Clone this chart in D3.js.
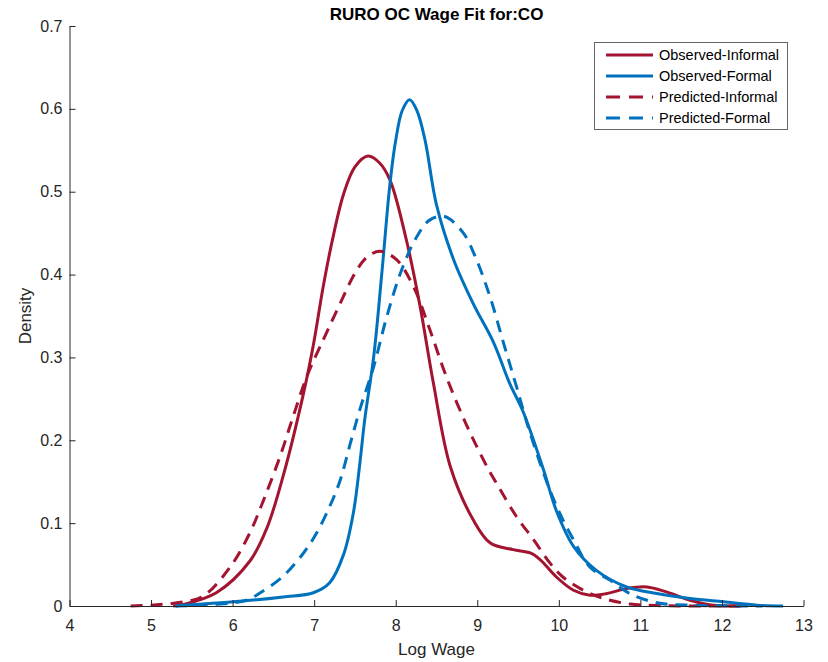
<!DOCTYPE html>
<html>
<head>
<meta charset="utf-8">
<script src="https://cdn.jsdelivr.net/npm/d3@7"></script>
<style>
  body { margin: 0; background: #fff; }
  svg { display: block; font-family: "Liberation Sans", Arial, Helvetica, sans-serif; }
</style>
</head>
<body>
<svg id="chart" width="828" height="662"></svg>
<script>
// Kernel density estimates of log wage, observed vs. model-predicted
const titleText = "RURO OC Wage Fit for:CO";
const xLabel = "Log Wage";
const yLabel = "Density";
const xTicks = [4, 5, 6, 7, 8, 9, 10, 11, 12, 13];
const yTicks = [0, 0.1, 0.2, 0.3, 0.4, 0.5, 0.6, 0.7];
const seriesNames = ["Observed-Informal", "Observed-Formal", "Predicted-Informal", "Predicted-Formal"];

const observedInformal = [
  [5.27, 0], [5.40, 0.002], [5.80, 0.016], [6.21, 0.054], [6.42, 0.094], [6.62, 0.157],
  [6.87, 0.257], [6.99, 0.315], [7.11, 0.385], [7.22, 0.440], [7.36, 0.497],
  [7.50, 0.530], [7.66, 0.543], [7.80, 0.535], [7.93, 0.514], [8.13, 0.442], [8.30, 0.361],
  [8.46, 0.270], [8.67, 0.168], [8.95, 0.104], [9.16, 0.076], [9.44, 0.068], [9.65, 0.064],
  [9.77, 0.056], [9.97, 0.035], [10.18, 0.019], [10.38, 0.013], [10.59, 0.015], [10.83, 0.021],
  [11.08, 0.023], [11.32, 0.017], [11.61, 0.007], [11.89, 0.001], [12.22, 0]
];
const observedFormal = [
  [5.30, 0], [5.40, 0.001], [6.01, 0.005], [6.62, 0.011], [6.99, 0.016], [7.19, 0.028],
  [7.36, 0.062], [7.48, 0.112], [7.56, 0.172], [7.62, 0.225], [7.73, 0.301], [7.83, 0.402],
  [7.93, 0.510], [8.00, 0.562], [8.08, 0.598], [8.17, 0.611], [8.26, 0.598], [8.36, 0.562],
  [8.50, 0.484], [8.71, 0.418], [8.95, 0.365], [9.20, 0.318], [9.40, 0.268], [9.56, 0.235],
  [9.81, 0.165], [9.97, 0.115], [10.18, 0.072], [10.46, 0.043], [10.83, 0.023], [11.2, 0.015],
  [11.61, 0.009], [12.02, 0.005], [12.43, 0.001], [12.75, 0]
];
const predictedInformal = [
  [4.75, 0], [5.0, 0.001], [5.40, 0.005], [5.64, 0.012], [5.97, 0.047], [6.21, 0.088],
  [6.38, 0.128], [6.58, 0.180], [6.74, 0.228], [6.91, 0.277], [7.11, 0.321], [7.28, 0.357],
  [7.52, 0.405], [7.66, 0.422], [7.81, 0.428], [8.01, 0.418], [8.22, 0.385], [8.42, 0.333],
  [8.62, 0.277], [8.87, 0.218], [9.12, 0.168], [9.26, 0.144], [9.48, 0.108], [9.69, 0.080],
  [9.89, 0.052], [10.05, 0.035], [10.30, 0.019], [10.55, 0.009], [10.87, 0.0024], [11.2, 0.0005],
  [12.26, 0]
];
const predictedFormal = [
  [5.30, 0], [5.80, 0.002], [6.17, 0.007], [6.34, 0.016], [6.62, 0.036], [6.87, 0.064],
  [7.03, 0.088], [7.19, 0.120], [7.32, 0.152], [7.44, 0.195], [7.56, 0.237], [7.73, 0.289],
  [7.89, 0.349], [8.07, 0.405], [8.26, 0.446], [8.42, 0.466], [8.60, 0.470], [8.83, 0.450],
  [8.99, 0.418], [9.16, 0.372], [9.32, 0.318], [9.48, 0.265], [9.65, 0.208], [9.89, 0.140],
  [10.05, 0.104], [10.18, 0.080], [10.38, 0.047], [10.63, 0.031], [10.87, 0.015], [11.2, 0.004],
  [11.6, 0.001], [12.5, 0]
];

const red = "#A2142F";
const blue = "#0072BD";
const series = [
  { name: seriesNames[0], data: observedInformal, color: red, dash: null },
  { name: seriesNames[1], data: observedFormal, color: blue, dash: null },
  { name: seriesNames[2], data: predictedInformal, color: red, dash: "12,8" },
  { name: seriesNames[3], data: predictedFormal, color: blue, dash: "12,8" }
];

const margin = { left: 69.5, right: 828 - 803.5, top: 26, bottom: 662 - 606 };
const svg = d3.select("#chart");
const W = 828, H = 662;

const x = d3.scaleLinear().domain([4, 13]).range([margin.left, W - margin.right]);
const y = d3.scaleLinear().domain([0, 0.7]).range([H - margin.bottom, margin.top]);

const axisColor = "#262626";

// density curves
const line = d3.line()
  .x(d => x(d[0]))
  .y(d => y(d[1]))
  .curve(d3.curveCatmullRom.alpha(0.5));

const g = svg.append("g");
series.forEach(s => {
  g.append("path")
    .datum(s.data)
    .attr("d", line)
    .attr("fill", "none")
    .attr("stroke", s.color)
    .attr("stroke-width", 3)
    .attr("stroke-dasharray", s.dash)
    .attr("stroke-linejoin", "round");
});

// axes with inward ticks
const xAxis = svg.append("g")
  .attr("transform", `translate(0,${y(0)})`)
  .call(d3.axisBottom(x).tickValues(xTicks).tickFormat(d3.format("d")).tickSizeInner(-6).tickSizeOuter(0).tickPadding(14));
const yAxis = svg.append("g")
  .attr("transform", `translate(${x(4)},0)`)
  .call(d3.axisLeft(y).tickValues(yTicks).tickFormat(d => d === 0 ? "0" : d3.format(".1f")(d)).tickSizeInner(-6).tickSizeOuter(0).tickPadding(7));

[xAxis, yAxis].forEach(a => {
  a.select(".domain").attr("stroke", axisColor).attr("stroke-width", 1);
  a.selectAll(".tick line").attr("stroke", axisColor).attr("stroke-width", 1);
  a.selectAll(".tick text").attr("fill", axisColor).attr("font-size", 16)
    .attr("font-family", "'Liberation Sans', Arial, sans-serif");
});

// title and axis labels
svg.append("text")
  .attr("x", (x(4) + x(13)) / 2).attr("y", 20)
  .attr("text-anchor", "middle")
  .attr("font-size", 17).attr("font-weight", "bold").attr("fill", "#000")
  .text(titleText);

svg.append("text")
  .attr("x", (x(4) + x(13)) / 2).attr("y", 655)
  .attr("text-anchor", "middle")
  .attr("font-size", 17).attr("fill", axisColor)
  .text(xLabel);

svg.append("text")
  .attr("transform", `translate(31,${(y(0) + y(0.7)) / 2}) rotate(-90)`)
  .attr("text-anchor", "middle")
  .attr("font-size", 17).attr("fill", axisColor)
  .text(yLabel);

// legend
const lg = svg.append("g");
lg.append("rect")
  .attr("x", 594.5).attr("y", 42.5).attr("width", 193).attr("height", 87)
  .attr("fill", "#fff").attr("stroke", "#666").attr("stroke-width", 1);
series.forEach((s, i) => {
  const cy = 55 + i * 21;
  lg.append("line")
    .attr("x1", 606).attr("x2", 653).attr("y1", cy).attr("y2", cy)
    .attr("stroke", s.color).attr("stroke-width", 3)
    .attr("stroke-dasharray", s.dash ? "14,9" : null);
  lg.append("text")
    .attr("x", 659).attr("y", cy + 5)
    .attr("font-size", 14.5).attr("fill", "#000")
    .text(s.name);
});
</script>
</body>
</html>
